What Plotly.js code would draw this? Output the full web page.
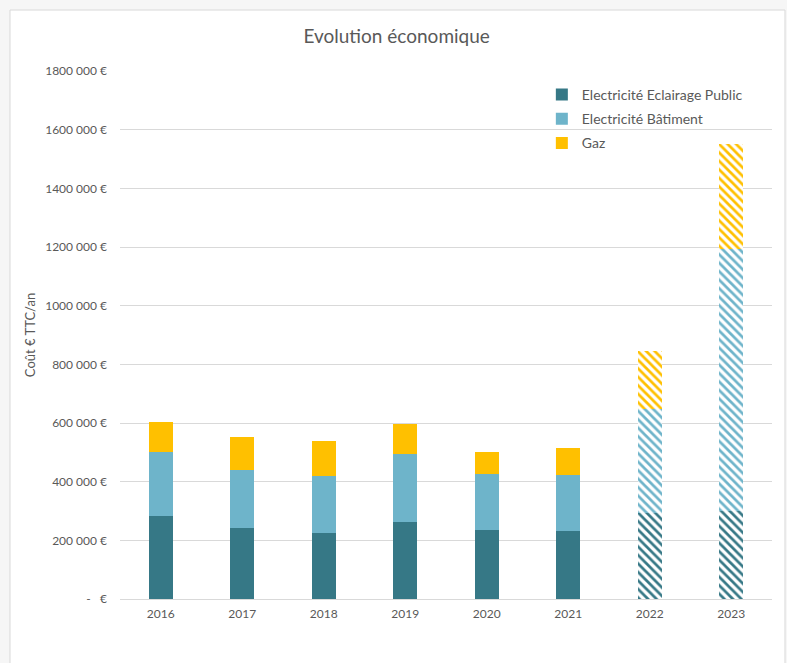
<!DOCTYPE html>
<html>
<head>
<meta charset="utf-8">
<script src="https://cdn.plot.ly/plotly-3.0.1.min.js"></script>
<style>html,body{margin:0;padding:0;background:#f6f6f6;}#chart{width:787px;height:663px;}</style>
</head>
<body>
<div id="chart"></div>
<script>
const years = ["2016","2017","2018","2019","2020","2021","2022","2023"];
const eclairagePublic = [283000, 243000, 225000, 261000, 235000, 232000, 292000, 300000];
const batiment = [217000, 198000, 194000, 234000, 190000, 190000, 356000, 893000];
const gaz = [103000, 110000, 120000, 101000, 75000, 93000, 198000, 358000];
const patternShapes = ["", "", "", "", "", "", "\\", "\\"];
const tickValues = [0, 200000, 400000, 600000, 800000, 1000000, 1200000, 1400000, 1600000, 1800000];
const tickLabels = ["-   €", "200 000 €", "400 000 €", "600 000 €", "800 000 €", "1000 000 €", "1200 000 €", "1400 000 €", "1600 000 €", "1800 000 €"];

const names = ["Electricité Eclairage Public", "Electricité Bâtiment", "Gaz"];
const colors = ["#367886", "#6EB4CA", "#FFC000"];
const series = [eclairagePublic, batiment, gaz];

const traces = series.map((vals, i) => ({
  type: "bar",
  name: names[i],
  legendgroup: "g" + i,
  x: years,
  y: vals,
  marker: {
    color: colors[i],
    line: {width: 0},
    pattern: {shape: patternShapes, fgcolor: colors[i], bgcolor: "#ffffff", size: 6, solidity: 0.45, fillmode: "replace"}
  },
  hoverinfo: "x+y+name"
}));

const layout = {
  width: 787, height: 663,
  margin: {l: 120, r: 15, t: 71, b: 64},
  paper_bgcolor: "#f6f6f6",
  plot_bgcolor: "rgba(0,0,0,0)",
  font: {family: "Lato, 'Open Sans', sans-serif", color: "#595959"},
  barmode: "stack",
  bargap: 0.705,
  title: {text: "Evolution économique", font: {size: 19, color: "#595959"}, x: 0.504, xref: "container", xanchor: "center", y: 0.945, yref: "container", yanchor: "middle"},
  xaxis: {type: "category", tickfont: {size: 12, color: "#595959"}, showgrid: false, showline: false, ticks: "", ticklabelstandoff: 6},
  yaxis: {
    range: [0, 1800000], tickvals: tickValues, ticktext: tickLabels,
    tickfont: {size: 12, color: "#595959"},
    gridcolor: "#d9d9d9", gridwidth: 1, zeroline: true, zerolinecolor: "#d9d9d9", zerolinewidth: 1,
    showline: false, ticks: "", ticklabelstandoff: 12,
    title: {text: "Coût € TTC/an", font: {size: 13, color: "#595959"}, standoff: 6}
  },
  legend: {x: 0.647, y: 0.985, xanchor: "left", yanchor: "top", bgcolor: "rgba(0,0,0,0)", font: {size: 14, color: "#595959"}, traceorder: "grouped", tracegroupgap: 3},
  shapes: [{type: "rect", xref: "paper", yref: "paper", x0: -0.1687, x1: 1.0199, y0: -0.14, y1: 1.1155, fillcolor: "#ffffff", line: {color: "#d9d9d9", width: 1}, layer: "below"}]
};

Plotly.newPlot("chart", traces, layout, {displayModeBar: false, staticPlot: false});
</script>
</body>
</html>
